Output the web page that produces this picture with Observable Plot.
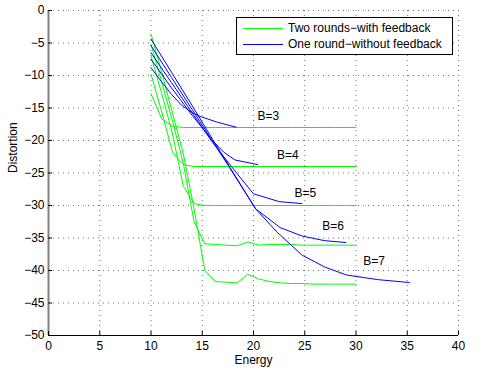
<!DOCTYPE html>
<html>
<head>
<meta charset="utf-8">
<script src="https://cdn.jsdelivr.net/npm/d3@7"></script>
<script src="https://cdn.jsdelivr.net/npm/@observablehq/plot@0.6"></script>
<style>
  html, body { margin: 0; padding: 0; background: #fff; }
  #wrap { position: relative; width: 498px; height: 378px; font-family: "Liberation Sans", Arial, sans-serif; }
  #legend { position: absolute; left: 236px; top: 17px; width: 215px; height: 36px; border: 1px solid #000; background: #fff; font-size: 12px; }
  .row { position: absolute; left: 0; height: 16px; display: flex; align-items: center; }
  .sw { width: 40px; height: 0; margin-left: 6px; margin-right: 5px; border-top: 1px solid; }
</style>
</head>
<body>
<div id="wrap"></div>
<script>
// ---- data ----
const xTicks = [0, 5, 10, 15, 20, 25, 30, 35, 40];
const yTicks = [0, -5, -10, -15, -20, -25, -30, -35, -40, -45, -50];

// Two rounds - with feedback (green), shared energy grid
const energyGreen = [10, 11.05, 12.1, 13.15, 14.2, 15.25, 16.3, 17.35, 18.4, 19.45, 20.5, 21.6, 22.6, 23.7, 24.7, 25.8, 26.8, 27.9, 28.9, 30];
const greenB3 = [-12.8, -16.7, -17.8, -18.0, -18.0, -18.0, -18.0, -18.0, -18.0, -18.0, -18.0, -18.0, -18.0, -18.0, -18.0, -18.0, -18.0, -18.0, -18.0, -18.0];
const greenB4 = [-9.8, -15.6, -21.8, -23.7, -24.0, -24.0, -24.0, -24.0, -24.0, -24.0, -24.0, -24.0, -24.0, -24.0, -24.0, -24.0, -24.0, -24.0, -24.0, -24.0];
const greenB5 = [-7.0, -12.8, -19.0, -27.0, -29.7, -30.0, -30.0, -30.0, -30.0, -30.0, -30.0, -30.0, -30.0, -30.0, -30.0, -30.0, -30.0, -30.0, -30.0, -30.0];
const greenB6 = [-5.2, -11.0, -17.0, -23.5, -32.5, -35.9, -36.0, -36.1, -36.2, -35.6, -36.1, -36.0, -36.0, -36.0, -36.1, -36.1, -36.1, -36.1, -36.1, -36.1];
const greenB7 = [-3.6, -9.5, -15.8, -22.0, -30.5, -40.0, -41.7, -41.8, -41.9, -40.6, -41.3, -41.7, -41.9, -42.0, -42.0, -42.1, -42.1, -42.1, -42.1, -42.1];

// One round - without feedback (blue), each with its own energy points
const energyBlueB3 = [10, 11, 12, 13, 14, 14.8, 16.5, 18.3];
const blueB3 = [-8.8, -10.9, -12.9, -14.6, -15.7, -16.3, -17.2, -17.95];
const energyBlueB4 = [10, 12, 14, 16, 17.1, 18.2, 20.4];
const blueB4 = [-7.5, -11.9, -16.1, -20.0, -21.8, -23.0, -23.7];
const energyBlueB5 = [10, 12, 14, 16, 18.4, 20.0, 22.5, 24.7];
const blueB5 = [-6.5, -11.1, -15.7, -20.3, -25.1, -28.2, -29.4, -29.7];
const energyBlueB6 = [10, 12, 14, 16, 18, 20.2, 22.6, 24.75, 26.9, 29.0];
const blueB6 = [-5.4, -10.3, -15.2, -20.1, -25.0, -30.5, -33.4, -34.7, -35.4, -35.7];
const energyBlueB7 = [10, 12, 14, 16, 18, 20.2, 22.3, 24.75, 27.0, 29.1, 32.1, 35.2];
const blueB7 = [-4.4, -9.5, -14.6, -19.8, -24.9, -30.5, -34.1, -37.65, -39.5, -40.7, -41.4, -41.85];

// annotations
const labelText = ["B=3", "B=4", "B=5", "B=6", "B=7"];
const labelEnergy = [20.4, 22.3, 24.0, 26.7, 30.7];
const labelDistortion = [-16.2, -22.3, -28.1, -33.2, -38.6];

const legendLabels = ["Two rounds\u2212with feedback", "One round\u2212without feedback"];
const green = "#00ff00", blue = "#0000ff";

// ---- build tidy rows ----
function rows(xs, ys, key) { return xs.map((x, i) => ({x, y: ys[i], key})); }
const greenRows = [
  ...rows(energyGreen, greenB3, "g3"), ...rows(energyGreen, greenB4, "g4"),
  ...rows(energyGreen, greenB5, "g5"), ...rows(energyGreen, greenB6, "g6"),
  ...rows(energyGreen, greenB7, "g7")
];
const blueRows = [
  ...rows(energyBlueB3, blueB3, "b3"), ...rows(energyBlueB4, blueB4, "b4"),
  ...rows(energyBlueB5, blueB5, "b5"), ...rows(energyBlueB6, blueB6, "b6"),
  ...rows(energyBlueB7, blueB7, "b7")
];
const labels = labelText.map((t, i) => ({t, x: labelEnergy[i], y: labelDistortion[i]}));

const W = 498, H = 378, mL = 48, mR = 40, mT = 10, mB = 43;
const fw = W - mL - mR, fh = H - mT - mB;

const chart = Plot.plot({
  width: W, height: H,
  marginLeft: mL, marginRight: mR, marginTop: mT, marginBottom: mB,
  style: {fontFamily: "'Liberation Sans', Arial, sans-serif", fontSize: "12px", color: "#000", background: "#fff"},
  x: {domain: [0, 40]},
  y: {domain: [-50, 0]},
  marks: [
    Plot.gridX(xTicks, {stroke: "#000", strokeOpacity: 0.55, strokeDasharray: "1,4"}),
    Plot.gridY(yTicks, {stroke: "#000", strokeOpacity: 0.55, strokeDasharray: "1,4"}),
    Plot.line(greenRows, {x: "x", y: "y", z: "key", stroke: green, strokeWidth: 1}),
    Plot.line(blueRows, {x: "x", y: "y", z: "key", stroke: blue, strokeWidth: 1}),
    Plot.text(labels, {x: "x", y: "y", text: "t", textAnchor: "start", fontSize: 12}),
    Plot.ruleX([xTicks[0]], {stroke: "#808080", strokeWidth: 2}),
    Plot.ruleY([yTicks[yTicks.length - 1]], {stroke: "#000", strokeWidth: 1}),
    Plot.tickX(xTicks, {x: d => d, insetTop: fh - 4, stroke: "#000"}),
    Plot.tickY(yTicks, {y: d => d, insetRight: fw - 4, stroke: "#000"}),
    Plot.axisX(xTicks, {tickSize: 0, tickPadding: 6, label: null, fontSize: 12}),
    Plot.axisY(yTicks, {tickSize: 0, tickPadding: 4, label: null, fontSize: 12}),
    Plot.text(["Energy"], {frameAnchor: "bottom", dy: 28, fontSize: 12}),
    Plot.text(["Distortion"], {frameAnchor: "left", dx: -35, rotate: -90, fontSize: 12})
  ]
});

const wrap = document.getElementById("wrap");
wrap.appendChild(chart);

// legend overlay
const legend = document.createElement("div");
legend.id = "legend";
[[legendLabels[0], green, 2], [legendLabels[1], blue, 18]].forEach(([t, c, top]) => {
  const r = document.createElement("div");
  r.className = "row";
  r.style.top = top + "px";
  const s = document.createElement("span");
  s.className = "sw";
  s.style.borderTopColor = c;
  r.appendChild(s);
  const l = document.createElement("span");
  l.textContent = t;
  r.appendChild(l);
  legend.appendChild(r);
});
wrap.appendChild(legend);
</script>
</body>
</html>
